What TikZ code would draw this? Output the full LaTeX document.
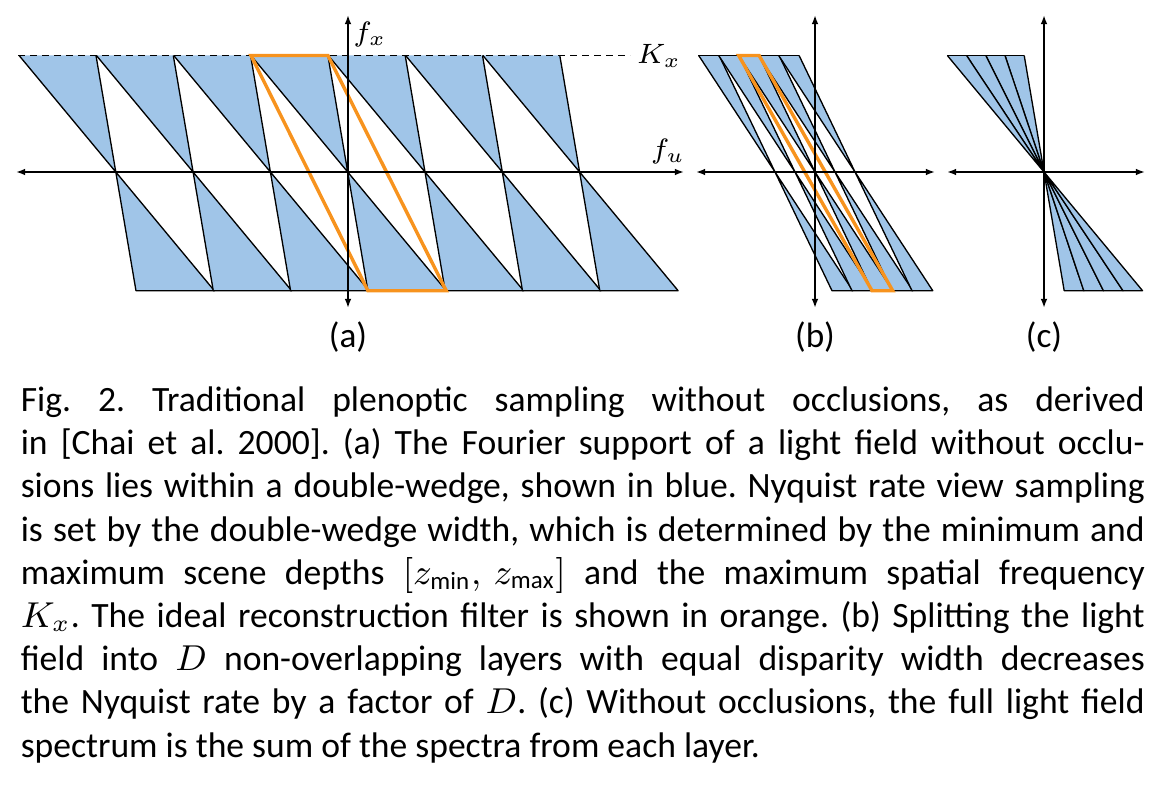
\documentclass[tikz,border=0pt]{standalone}
\usepackage{fontspec}
\setmainfont{Carlito}
\usetikzlibrary{arrows.meta}

\definecolor{wedgeblue}{RGB}{160,197,232}
\definecolor{filterorange}{RGB}{247,147,30}

\tikzset{
  spectrum/.style={fill=wedgeblue, draw=black, line width=0.33pt, line join=round},
  edge/.style={draw=black, line width=0.33pt, line join=round},
  recfilter/.style={draw=filterorange, line width=0.85pt},
  freqaxis/.style={{Latex[length=2.3pt,width=1.7pt]}-{Latex[length=2.3pt,width=1.7pt]}, line width=0.58pt},
  axlabel/.style={font=\fontsize{6.8}{8}\selectfont},
  panel/.style={font=\fontsize{8.8}{10}\selectfont},
  caption/.style={font=\fontsize{8.9}{10.8}\selectfont, text width=281pt, align=justify, inner sep=0pt},
}

\begin{document}
\begin{tikzpicture}[x=0.25pt, y=-0.25pt]
\useasboundingbox (0,0) rectangle (1164,802);

% Heights of the spectra
\def\ytop{55.5}
\def\yax{172}
\def\ybot{290.7}
\def\htop{116.5}
\def\hbot{118.7}

% Double wedge: apex at #1 on the f_u axis, slopes #2 < #3
% (the top edge is left to the dashed K_x line)
\newcommand{\dwedge}[3]{%
  \fill[wedgeblue] (#1,\yax) -- ({#1-#3*\htop},\ytop) -- ({#1-#2*\htop},\ytop) -- cycle;
  \draw[edge] ({#1-#3*\htop},\ytop) -- (#1,\yax) -- ({#1-#2*\htop},\ytop);
  \draw[spectrum] (#1,\yax) -- ({#1+#2*\hbot},\ybot) -- ({#1+#3*\hbot},\ybot) -- cycle;
}

% (a) replicas at the full view sampling rate
\foreach \k in {-3,...,3} {
  \pgfmathsetmacro{\cx}{347.7+77.3*\k}
  \dwedge{\cx}{0.17}{0.83}
}

% Dashed line at K_x
\coordinate (kx-start) at (18,\ytop);
\coordinate (kx-end) at (630,\ytop);
\draw[dashed, dash pattern=on 1.8pt off 1.2pt, line width=0.33pt] (kx-start) -- (kx-end);
\node[axlabel, right, inner sep=1.5pt] (kx) at (kx-end) {$K_x$};

% Reconstruction filter (a)
\coordinate (fa1) at (251,\ytop);
\coordinate (fa2) at (327.9,\ytop);
\coordinate (fa3) at (446.2,\ybot);
\coordinate (fa4) at (367.9,\ybot);
\draw[recfilter] (fa1) -- (fa2) -- (fa3) -- (fa4) -- cycle;

% Axes (a)
\coordinate (a-w) at (16,\yax);
\coordinate (a-e) at (684,\yax);
\coordinate (a-s) at (348,308);
\coordinate (a-n) at (348,15);
\draw[freqaxis] (a-w) -- (a-e);
\draw[freqaxis] (a-s) -- (a-n);
\node[axlabel] (fx) at (370,35) {$f_x$};
\node[axlabel] (fu) at (668,152) {$f_u$};
\node[panel] (lbl-a) at (348,337) {(a)};

% (b) one layer, replicas D times closer
\foreach \k in {-2,...,2} {
  \pgfmathsetmacro{\cx}{815+20*\k}
  \dwedge{\cx}{0.48}{0.655}
}
\coordinate (b-top-w) at (698,\ytop);
\coordinate (b-top-e) at (799,\ytop);
\draw[edge] (b-top-w) -- (b-top-e);

% Reconstruction filter (b)
\coordinate (fb1) at (738.7,\ytop);
\coordinate (fb2) at (759.1,\ytop);
\coordinate (fb3) at (892.7,\ybot);
\coordinate (fb4) at (872,\ybot);
\draw[recfilter] (fb1) -- (fb2) -- (fb3) -- (fb4) -- cycle;

% Axes (b)
\coordinate (b-w) at (696,\yax);
\coordinate (b-e) at (935,\yax);
\coordinate (b-s) at (815,308);
\coordinate (b-n) at (815,15);
\draw[freqaxis] (b-w) -- (b-e);
\draw[freqaxis] (b-s) -- (b-n);
\node[panel] (lbl-b) at (815,337) {(b)};

% (c) sum of the layer spectra
\foreach \sa/\sb in {0.17/0.335, 0.335/0.5, 0.5/0.665, 0.665/0.83} {
  \dwedge{1044}{\sa}{\sb}
}
\coordinate (c-top-w) at (947,\ytop);
\coordinate (c-top-e) at (1024,\ytop);
\draw[edge] (c-top-w) -- (c-top-e);

% Axes (c)
\coordinate (c-w) at (947,\yax);
\coordinate (c-e) at (1145,\yax);
\coordinate (c-s) at (1044,308);
\coordinate (c-n) at (1044,15);
\draw[freqaxis] (c-w) -- (c-e);
\draw[freqaxis] (c-s) -- (c-n);
\node[panel] (lbl-c) at (1044,337) {(c)};

% Caption
\node[caption, anchor=north west] (cap) at (20,386) {%
\frenchspacing\hyphenpenalty=10000
Fig.~2. Traditional plenoptic sampling without occlusions, as derived\linebreak
in [Chai et al.~2000]. (a) The Fourier support of a light field without occlu-\linebreak
sions lies within a double-wedge, shown in blue. Nyquist rate view sampling\linebreak
is set by the double-wedge width, which is determined by the minimum and\linebreak
maximum scene depths $[z_{\mathrm{min}},\, z_{\mathrm{max}}]$ and the maximum spatial frequency\linebreak
$K_{x}$. The ideal reconstruction filter is shown in orange. (b) Splitting the light\linebreak
field into $D$ non-overlapping layers with equal disparity width decreases\linebreak
the Nyquist rate by a factor of $D$. (c) Without occlusions, the full light field\linebreak
spectrum is the sum of the spectra from each layer.};

\end{tikzpicture}
\end{document}
